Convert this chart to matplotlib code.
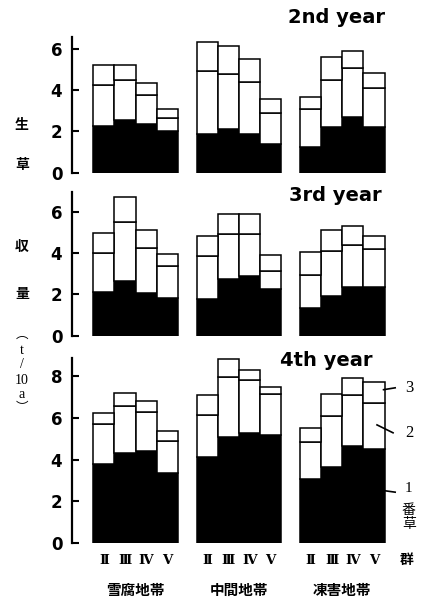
import matplotlib
import numpy as np

matplotlib.use("Agg")
import matplotlib.pyplot as plt

plt.rcParams["font.family"] = ["DejaVu Sans", "Noto Sans CJK JP"]

ZONES = ["雪腐地帯", "中間地帯", "凍害地帯"]
GROUPS = ["Ⅱ", "Ⅲ", "Ⅳ", "Ⅴ"]
YEARS = ["2nd year", "3rd year", "4th year"]

# yield per cut (t/10a); 12 bars = 3 zones x groups II..V
CUT1_Y2 = [2.27, 2.56, 2.36, 2.00, 1.90, 2.10, 1.90, 1.40, 1.25, 2.23, 2.72, 2.23]
CUT2_Y2 = [1.97, 1.94, 1.41, 0.65, 3.05, 2.69, 2.50, 1.51, 1.85, 2.27, 2.34, 1.90]
CUT3_Y2 = [1.00, 0.74, 0.60, 0.45, 1.41, 1.36, 1.12, 0.67, 0.56, 1.10, 0.84, 0.69]

CUT1_Y3 = [2.13, 2.66, 2.05, 1.81, 1.77, 2.74, 2.89, 2.24, 1.32, 1.92, 2.37, 2.37]
CUT2_Y3 = [1.89, 2.82, 2.21, 1.56, 2.08, 2.16, 2.01, 0.87, 1.62, 2.18, 2.00, 1.81]
CUT3_Y3 = [0.96, 1.21, 0.84, 0.60, 0.97, 1.00, 1.00, 0.81, 1.12, 1.00, 0.95, 0.66]

CUT1_Y4 = [3.79, 4.32, 4.40, 3.34, 4.11, 5.07, 5.26, 5.20, 3.09, 3.63, 4.66, 4.53]
CUT2_Y4 = [1.92, 2.24, 1.89, 1.57, 2.02, 2.91, 2.55, 1.94, 1.74, 2.47, 2.46, 2.17]
CUT3_Y4 = [0.53, 0.66, 0.54, 0.48, 0.97, 0.87, 0.51, 0.36, 0.71, 1.05, 0.80, 1.01]

PANELS = [
    (CUT1_Y2, CUT2_Y2, CUT3_Y2, 6.6, [0, 2, 4, 6]),
    (CUT1_Y3, CUT2_Y3, CUT3_Y3, 6.95, [0, 2, 4, 6]),
    (CUT1_Y4, CUT2_Y4, CUT3_Y4, 8.9, [0, 2, 4, 6, 8]),
]

W, H = 425, 600
# (zero line px from top, px per unit) for each panel
PANEL_GEOM = [(172.7, 20.6), (335.7, 20.67), (543.0, 20.83)]
AX_LEFT_PX, AX_RIGHT_PX = 72, 415
GROUP_STRIDE = 4.9
XMIN, XMAX = -1.51, 14.74

NARROW = ["Liberation Sans Narrow", "DejaVu Sans"]
SERIF = ["DejaVu Serif", "Noto Sans CJK JP"]
CJK = ["Noto Sans CJK JP", "DejaVu Sans"]

x = np.array([z * GROUP_STRIDE + g for z in range(len(ZONES)) for g in range(len(GROUPS))])

fig = plt.figure(figsize=(W / 100, H / 100), dpi=100)
axes = []
for (c1, c2, c3, top, ticks), (zero_px, ppu) in zip(PANELS, PANEL_GEOM):
    c1, c2, c3 = map(np.array, (c1, c2, c3))
    ax = fig.add_axes([
        AX_LEFT_PX / W,
        (H - zero_px) / H,
        (AX_RIGHT_PX - AX_LEFT_PX) / W,
        top * ppu / H,
    ])
    ax.bar(x, c1, width=1.0, color="black", edgecolor="black", linewidth=1.1)
    ax.bar(x, c2, width=1.0, bottom=c1, color="white", edgecolor="black", linewidth=1.1)
    ax.bar(x, c3, width=1.0, bottom=c1 + c2, color="white", edgecolor="black", linewidth=1.1)

    ax.set_xlim(XMIN, XMAX)
    ax.set_ylim(0, top)
    ax.set_xticks([])
    ax.set_yticks(ticks)
    ax.set_yticklabels([str(t) for t in ticks], fontsize=12, fontweight="bold", family=NARROW)
    ax.tick_params(axis="y", direction="in", length=5, width=1.5, pad=7)
    for side in ("top", "right", "bottom"):
        ax.spines[side].set_visible(False)
    ax.spines["left"].set_linewidth(1.6)
    ax.patch.set_visible(False)
    axes.append(ax)

# year titles, right aligned over the last group
title_pos = [(13.32, 7.53), (13.18, 6.8), (12.75, 8.75)]
for ax, title, (tx, ty) in zip(axes, YEARS, title_pos):
    ax.text(tx, ty, title, ha="right", va="center", fontsize=14,
            fontweight="bold", clip_on=False)

ax3 = axes[2]
for xi, g in zip(x, GROUPS * len(ZONES)):
    ax3.text(xi, -0.82, g, ha="center", va="center", fontsize=9.5,
             fontweight="bold", family=SERIF, clip_on=False)
ax3.text(14.36, -0.82, "群", ha="center", va="center", fontsize=10,
         fontweight="bold", family=CJK, clip_on=False)
for z, name in enumerate(ZONES):
    ax3.text(z * GROUP_STRIDE + 1.5, -2.26, name, ha="center", va="center",
             fontsize=10.5, fontweight="bold", family=CJK, clip_on=False)

# cut labels with leader lines on the last bar
leaders = [((13.25, 13.8), (7.36, 7.45), "3", 7.45),
           ((12.94, 13.7), (5.67, 5.29), "2", 5.29)]
for xs, ys, lab, ly in leaders:
    ax3.plot(xs, ys, color="black", lw=1.2, clip_on=False)
    ax3.text(14.45, ly, lab, ha="center", va="center", fontsize=12,
             family="Liberation Serif", clip_on=False)
ax3.plot((13.23, 13.8), (2.52, 2.44), color="black", lw=1.2, clip_on=False)
ax3.text(14.45, 2.6, "1", ha="center", va="center", fontsize=11,
         family="Liberation Serif", clip_on=False)
ax3.text(14.45, 1.6, "番", ha="center", va="center", fontsize=10, family=CJK, clip_on=False)
ax3.text(14.45, 0.9, "草", ha="center", va="center", fontsize=10, family=CJK, clip_on=False)

# vertical y-axis caption
ylabel = [("生", 125), ("草", 165), ("収", 247), ("量", 294),
          ("︵", 334), ("t", 350), ("/", 365), ("10", 381), ("a", 395), ("︶", 408)]
for ch, ypx in ylabel:
    if ch in "生草収量":
        fig.text(22 / W, 1 - ypx / H, ch, ha="center", va="center", fontsize=10,
                 fontweight="bold", family=CJK)
    elif ch in "︵︶":
        fig.text(22 / W, 1 - ypx / H, ch, ha="center", va="center", fontsize=9, family=CJK)
    else:
        fig.text(22 / W, 1 - ypx / H, ch, ha="center", va="center", fontsize=10,
                 family="Liberation Serif")

fig.savefig("out.png", dpi=100)
